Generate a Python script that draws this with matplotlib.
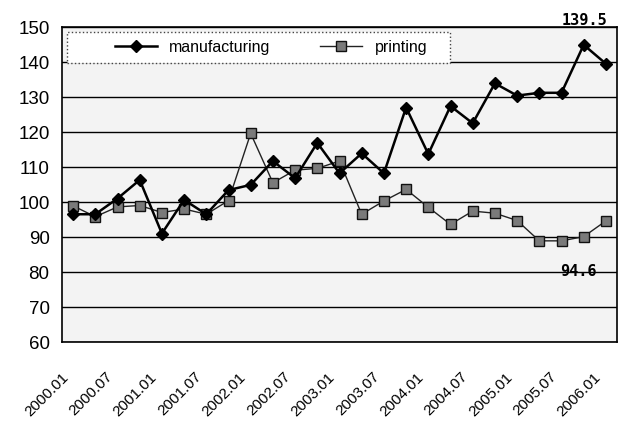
import matplotlib
matplotlib.use('Agg')
import matplotlib.pyplot as plt
from matplotlib.patches import Rectangle
from matplotlib.transforms import ScaledTranslation

# quarterly index values, 2000.01 - 2006.01
periods = ['2000.01', '2000.04', '2000.07', '2000.10',
           '2001.01', '2001.04', '2001.07', '2001.10',
           '2002.01', '2002.04', '2002.07', '2002.10',
           '2003.01', '2003.04', '2003.07', '2003.10',
           '2004.01', '2004.04', '2004.07', '2004.10',
           '2005.01', '2005.04', '2005.07', '2005.10',
           '2006.01']
manufacturing = [96.5, 96.5, 101.0, 106.3, 91.0, 100.6, 96.5, 103.4,
                 104.9, 111.7, 106.8, 116.9, 108.2, 113.9, 108.2, 127.0,
                 113.7, 127.4, 122.5, 133.9, 130.4, 131.2, 131.2, 144.9,
                 139.5]
printing = [98.9, 95.8, 98.6, 99.0, 97.0, 98.0, 96.5, 100.4,
            119.6, 105.5, 109.1, 109.6, 111.7, 96.5, 100.3, 103.6,
            98.5, 93.6, 97.4, 96.8, 94.7, 88.9, 88.9, 90.1,
            94.6]
tick_labels = periods[::2]

plt.rcParams['font.family'] = ['Liberation Sans', 'DejaVu Sans']

fig = plt.figure(figsize=(6.22, 4.22), dpi=100)
ax = fig.add_axes([62 / 622, 1 - 342 / 422, 555 / 622, 315 / 422])
ax.set_facecolor('#f3f3f3')

x = list(range(len(periods)))
ax.plot(x, manufacturing, color='black', lw=1.8, marker='D', ms=6.5,
        mfc='black', mec='black', label='manufacturing', zorder=4)
ax.plot(x, printing, color='#222222', lw=1.0, marker='s', ms=7,
        mfc='#7a7a7a', mec='#111111', mew=1.0, label='printing', zorder=3)

ax.set_xlim(-0.5, len(periods) - 0.5)
ax.set_ylim(60, 150)
ax.set_yticks(range(60, 151, 10))
ax.tick_params(axis='y', length=0, pad=9, labelsize=13.5)
ax.grid(axis='y', color='black', lw=1.0)
ax.set_axisbelow(True)
for s in ax.spines.values():
    s.set_linewidth(1.2)

ax.set_xticks(x[::2])
ax.set_xticklabels(tick_labels, rotation=45, ha='right', va='top',
                   rotation_mode='anchor', fontsize=11)
ax.tick_params(axis='x', length=0, pad=20)
off = ScaledTranslation(-12 / 100, 0, fig.dpi_scale_trans)
for lbl in ax.get_xticklabels():
    lbl.set_transform(lbl.get_transform() + off)

ax.annotate('139.5', xy=(x[-1], manufacturing[-1]), xytext=(1, 43),
            textcoords='offset pixels', ha='right', va='center',
            family='DejaVu Sans Mono', fontweight='bold', fontsize=11,
            annotation_clip=False)
ax.annotate('94.6', xy=(x[-1], printing[-1]), xytext=(-9, -51),
            textcoords='offset pixels', ha='right', va='center',
            family='DejaVu Sans Mono', fontweight='bold', fontsize=11)

# legend box across the top of the plot
box = Rectangle((5 / 555, (342 - 63) / 315), 383 / 555, 31 / 315,
                transform=ax.transAxes, facecolor='white', edgecolor='#444444',
                lw=1.0, ls=':', zorder=5)
ax.add_patch(box)
leg = ax.legend(loc='center left', bbox_to_anchor=(53 / 555, (342 - 47.5) / 315),
                ncol=2, borderaxespad=0, borderpad=0, fontsize=11.5,
                handlelength=2.6, handletextpad=0.8, columnspacing=3.1,
                frameon=False)
leg.set_zorder(6)

fig.savefig('out.png', dpi=100)
